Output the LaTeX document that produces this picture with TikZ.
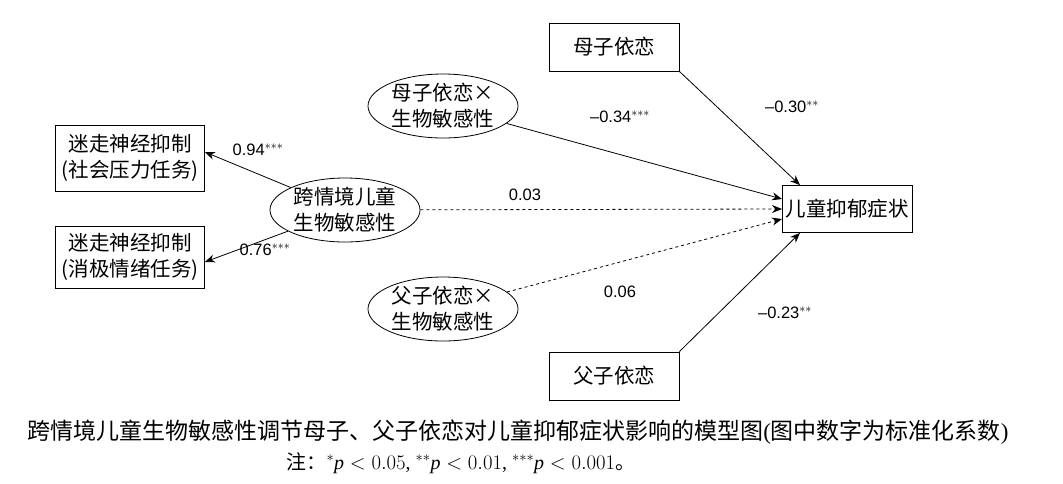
\documentclass[tikz,border=0pt]{standalone}
\usepackage{fontspec}
\setmainfont{Liberation Serif}
\newfontfamily\cjk{Noto Sans CJK SC}
\newfontfamily\num{Liberation Sans}
\usetikzlibrary{arrows.meta,shapes.geometric}
\begin{document}
\begin{tikzpicture}[x=1pt,y=-1pt,
  box/.style={draw,line width=0.8pt,minimum width=130pt,minimum height=48pt,inner sep=1pt,align=center,font=\cjk\fontsize{20.5}{26}\selectfont},
  ell/.style={draw,ellipse,line width=0.8pt,minimum width=150pt,minimum height=64pt,inner sep=0pt,align=center,font=\cjk\fontsize{20.5}{26}\selectfont},
  arr/.style={-{Stealth[length=10pt,width=8pt]},line width=0.8pt},
  lab/.style={font=\num\fontsize{16.5}{18}\selectfont}]
\useasboundingbox (0,0) rectangle (1063,483);
\node[box] (mom) at (614,47) {母子依恋};
\node[box] (dad) at (614,376) {父子依恋};
\node[box,minimum width=149pt,minimum height=66pt] (v1) at (130,158) {迷走神经抑制\\(社会压力任务)};
\node[box,minimum width=149pt,minimum height=62pt] (v2) at (130,257) {迷走神经抑制\\(消极情绪任务)};
\node[ell] (me) at (443,106) {母子依恋×\\生物敏感性};
\node[ell] (bs) at (345,210) {跨情境儿童\\生物敏感性};
\node[ell] (fe) at (443,309) {父子依恋×\\生物敏感性};
\node[box,minimum height=47pt] (dep) at (847,209) {儿童抑郁症状};
\coordinate (t1) at (782,199);
\coordinate (t2) at (782,209);
\coordinate (t3) at (782,219);
\draw[arr] (bs) -- (v1.east |- 0,152);
\draw[arr] (bs) -- (v2.east |- 0,262);
\draw[arr] (me) -- (t1);
\draw[arr,dashed] (bs) -- (t2);
\draw[arr,dashed] (fe) -- (t3);
\draw[arr] (mom.south east) -- (dep.north west -| 800,0);
\draw[arr] (dad.north east) -- (dep.south west -| 800,0);
\node[lab] at (258,150) {0.94$^{\mathbf{***}}$};
\node[lab] at (265,250) {0.76$^{\mathbf{***}}$};
\node[lab] at (620,117) {–0.34$^{\mathbf{***}}$};
\node[lab] at (792,107) {–0.30$^{\mathbf{**}}$};
\node[lab] at (525,195) {0.03};
\node[lab] at (620,292) {0.06};
\node[lab] at (785,313) {–0.23$^{\mathbf{**}}$};
\node[font=\fontsize{23}{26}\selectfont] (cap) at (518,432) {{\cjk 跨情境儿童生物敏感性调节母子、父子依恋对儿童抑郁症状影响的模型图}({\cjk 图中数字为标准化系数})};
\node[font=\fontsize{20}{22}\selectfont,anchor=west] (note) at (283,463) {{\cjk 注：}$^{*}\textit{p}<0.05$, $^{**}\textit{p}<0.01$, $^{***}\textit{p}<0.001${\cjk 。}};
\end{tikzpicture}
\end{document}
